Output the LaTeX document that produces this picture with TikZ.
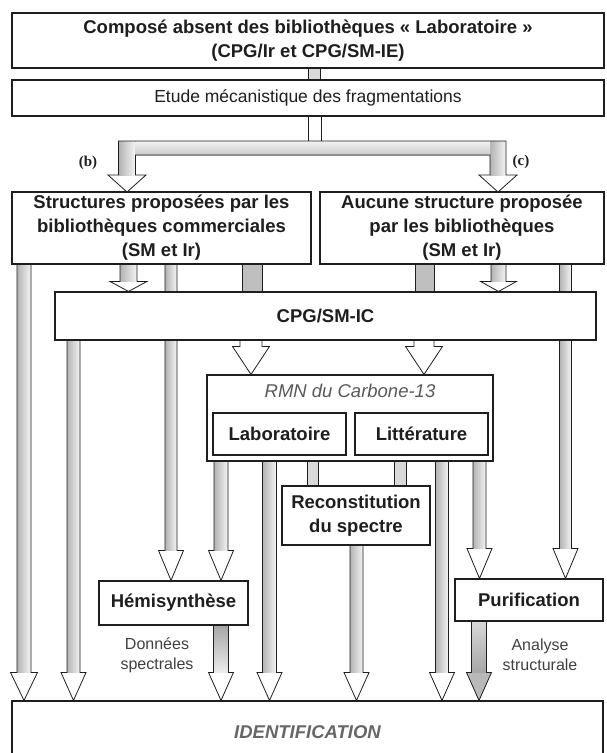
\documentclass[tikz,border=0pt]{standalone}
\usepackage{fontspec}
\setmainfont{Liberation Sans}
\newfontfamily\serifbf{Liberation Serif}
\usetikzlibrary{calc}
\pgfdeclarelayer{back}
\pgfdeclarelayer{bg}
\pgfsetlayers{back,bg,main}
\definecolor{ink}{RGB}{30,30,30}
\tikzset{
  box/.style={draw=ink, line width=1.1pt, fill=white, inner sep=0pt, align=center,
    text=ink, font=\fontsize{18.5}{24}\selectfont\bfseries},
  arr/.style={draw=ink, line width=0.8pt},
  hgrad/.style={left color=gray!60, right color=gray!8},
  gstub/.style={fill=gray!50},
  lstub/.style={fill=gray!30},
  note/.style={align=center, text=black!75, font=\fontsize{16}{20}\selectfont},
  lab/.style={text=ink, font=\fontsize{15}{17}\selectfont\serifbf\bfseries}
}
% [shaft style]{x}{from}{to}{shaft half width}{head half width}{head length}{head fill}
\newcommand{\barrh}[8]{%
  \path[fill=#8] let \p1=(#3), \p2=(#4) in
    ({(#2-#5)*1pt},\y1) -- ({(#2-#5)*1pt},{\y2+#7pt}) -- ({(#2-#6)*1pt},{\y2+#7pt})
    -- ({#2*1pt},\y2) -- ({(#2+#6)*1pt},{\y2+#7pt}) -- ({(#2+#5)*1pt},{\y2+#7pt})
    -- ({(#2+#5)*1pt},\y1) -- cycle;
  \path[#1] let \p1=(#3), \p2=(#4) in
    ({(#2-#5)*1pt},\y1) rectangle ({(#2+#5)*1pt},{\y2+#7pt});
  \path[arr] let \p1=(#3), \p2=(#4) in
    ({(#2-#5)*1pt},\y1) -- ({(#2-#5)*1pt},{\y2+#7pt}) -- ({(#2-#6)*1pt},{\y2+#7pt})
    -- ({#2*1pt},\y2) -- ({(#2+#6)*1pt},{\y2+#7pt}) -- ({(#2+#5)*1pt},{\y2+#7pt})
    -- ({(#2+#5)*1pt},\y1);}
\newcommand{\barr}[7][hgrad]{\barrh{#1}{#2}{#3}{#4}{#5}{#6}{#7}{white}}
% [style]{x}{from}{to}{half width}
\newcommand{\bstub}[5][gstub]{%
  \path[arr,#1] let \p1=(#3), \p2=(#4) in
    ({(#2-#5)*1pt},\y1) rectangle ({(#2+#5)*1pt},\y2);}
\begin{document}
\begin{tikzpicture}[x=1pt,y=-1pt]
\useasboundingbox (0,0) rectangle (606,753);
\begin{pgfonlayer}{back}
  \fill[white] (0,0) rectangle (606,753);
\end{pgfonlayer}
% boxes
\node[box, minimum width=592pt, minimum height=55pt] (top) at (308,40.5)
  {Composé absent des bibliothèques « Laboratoire »\\(CPG/Ir et CPG/SM-IE)};
\node[box, minimum width=592pt, minimum height=36pt, font=\fontsize{17.5}{20}\selectfont] (etude) at (308,98)
  {Etude mécanistique des fragmentations};
\node[box, minimum width=299pt, minimum height=72pt] (struct) at (161.5,228)
  {Structures proposées par les\\bibliothèques commerciales\\(SM et Ir)};
\node[box, minimum width=284pt, minimum height=72pt] (aucune) at (462,228)
  {Aucune structure proposée\\par les bibliothèques\\(SM et Ir)};
\node[box, minimum width=541pt, minimum height=48pt] (cpg) at (325.5,316) {CPG/SM-IC};
\node[box, minimum width=286pt, minimum height=86pt] (rmn) at (350,418) {};
\node[text=black!65, font=\fontsize{18.5}{22}\selectfont\itshape] (rmnt) at (350,391) {RMN du Carbone-13};
\node[box, minimum width=133pt, minimum height=42pt] (labo) at (279.5,434) {Laboratoire};
\node[box, minimum width=133pt, minimum height=42pt] (litt) at (421.5,434) {Littérature};
\node[box, minimum width=148pt, minimum height=59pt] (recon) at (356,515.5) {Reconstitution\\du spectre};
\node[box, minimum width=149pt, minimum height=44pt] (hemi) at (173.5,603) {Hémisynthèse};
\node[box, minimum width=148pt, minimum height=42pt] (purif) at (529,600) {Purification};
\node[box, minimum width=591pt, minimum height=60pt] (ident) at (307.5,731) {};
\node[text=black!60, font=\fontsize{18.5}{22}\selectfont\bfseries\itshape] (identt) at (307.5,732) {IDENTIFICATION};
% labels
\node[lab] (lb) at (88,163) {(b)};
\node[lab] (lc) at (521,162) {(c)};
\node[note] (donnees) at (157,655) {Données\\spectrales};
\node[note] (analyse) at (540,655) {Analyse\\structurale};
\coordinate (bartop) at (314.5,141);
\begin{pgfonlayer}{bg}
  % top stubs
  \bstub[lstub]{314}{top.south}{etude.north}{6}
  \bstub[fill=white]{314.5}{etude.south}{bartop}{6.5}
  % T shape (b)/(c)
  \fill[white] (118.5,141) -- (118.5,175) -- (108,175) -- (127,192) -- (146,175) -- (135.5,175)
     -- (135.5,155) -- (490,155) -- (490,175) -- (479,175) -- (498,192) -- (517,175) -- (506,175)
     -- (506,141) -- cycle;
  \fill[hgrad] (118.5,141) rectangle (135.5,175);
  \fill[hgrad] (490,141) rectangle (506,175);
  \fill[top color=gray!10, bottom color=gray!40] (135.5,141) rectangle (490,155);
  \draw[arr] (118.5,141) -- (118.5,175) -- (108,175) -- (127,192) -- (146,175) -- (135.5,175)
     -- (135.5,155) -- (490,155) -- (490,175) -- (479,175) -- (498,192) -- (517,175) -- (506,175)
     -- (506,141) -- cycle;
  % from Structures
  \barr{24}{struct.south}{ident.north}{7}{13.5}{28}
  \barr{128.5}{struct.south}{cpg.north}{8.5}{18.5}{10}
  \barr{171}{struct.south}{hemi.north}{6}{12.5}{30}
  \bstub{252}{struct.south}{cpg.north}{10}
  % from Aucune
  \bstub{424.5}{aucune.south}{cpg.north}{9.5}
  \barr{498.5}{aucune.south}{cpg.north}{7.5}{18}{10}
  \barr{565.5}{aucune.south}{purif.north}{6}{12.5}{30}
  % from CPG/SM-IC
  \barr{73.5}{cpg.south}{ident.north}{6.5}{12.5}{28}
  \barr[fill=white]{251}{cpg.south}{rmn.north}{11}{18.5}{28}
  \barr[fill=white]{424}{cpg.south}{rmn.north}{10}{18.5}{28}
  % from RMN
  \barr{221}{rmn.south}{hemi.north}{7}{12.5}{30}
  \barr{269.5}{rmn.south}{ident.north}{7}{12.5}{28}
  \bstub[lstub]{312.5}{rmn.south}{recon.north}{5.5}
  \bstub[lstub]{400}{rmn.south}{recon.north}{6}
  \barr{442}{rmn.south}{ident.north}{6.5}{12.5}{28}
  \barr{479.5}{rmn.south}{purif.north}{6.5}{12.5}{30}
  % to Identification
  \barr[top color=gray!70, bottom color=gray!15]{221}{hemi.south}{ident.north}{7.5}{12.5}{28}
  \barr{356.5}{recon.south}{ident.north}{6.5}{12.5}{28}
  \barrh{top color=gray!30, bottom color=gray!70}{479}{purif.south}{ident.north}{7.5}{12.5}{28}{gray!55}
\end{pgfonlayer}
\end{tikzpicture}
\end{document}
